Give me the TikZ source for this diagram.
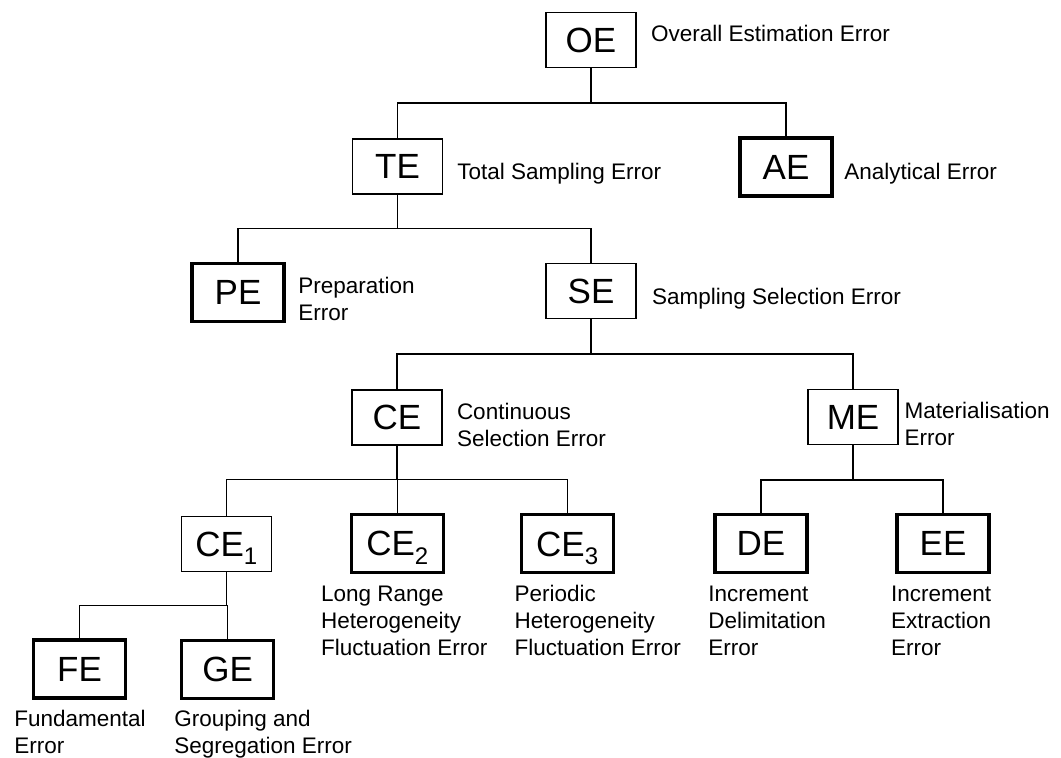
\documentclass[tikz,border=0pt]{standalone}
\usepackage{fontspec}
\setmainfont{Liberation Sans}
\usepackage{tikz}
\usetikzlibrary{positioning}
\newcommand{\idx}[1]{\raisebox{-4.3pt}{\fontsize{12}{12}\selectfont #1}}
\tikzstyle{thinbox} = [rectangle, draw=black, line width=0.6pt, minimum width=45pt, minimum height=27.5pt, inner sep=0pt, text height=12.5pt, text depth=0pt, font=\fontsize{17.5}{20}\selectfont]
\tikzstyle{thickbox} = [thinbox, line width=1.7pt, minimum width=46pt, minimum height=29pt]
\tikzstyle{desc} = [anchor=base west, inner sep=0pt, align=left, font=\fontsize{11.25}{13.5}\selectfont]
\tikzstyle{connector} = [line width=0.6pt]

\begin{document}
\begin{tikzpicture}[x=0.5pt, y=-0.5pt]
\useasboundingbox (0,0) rectangle (1061,758);

\node (oe) [thinbox] at (591,40) {OE};
\node (te) [thinbox] at (397.5,166.5) {TE};
\node (ae) [thickbox] at (786,167) {AE};
\node (pe) [thickbox] at (238,292.5) {PE};
\node (se) [thinbox] at (591,291) {SE};
\node (ce) [thinbox] at (397,417.5) {CE};
\node (me) [thinbox] at (853,417) {ME};
\node (ceone) [thinbox] at (226.3,543.7) {CE\idx{1}};
\node (cetwo) [thickbox] at (397.3,543.3) {CE\idx{2}};
\node (cethree) [thickbox] at (567.2,543.7) {CE\idx{3}};
\node (de) [thickbox] at (760.9,543.5) {DE};
\node (ee) [thickbox] at (943,543.5) {EE};
\node (fe) [thickbox] at (79.5,669) {FE};
\node (ge) [thickbox] at (227.7,669.5) {GE};

\node (oetext) [desc] at (650.7,41.7) {Overall Estimation Error};
\node (tetext) [desc] at (457,180) {Total Sampling Error};
\node (aetext) [desc] at (844,180) {Analytical Error};
\node (petext) [desc] at (298,320.3) {Preparation\\Error};
\node (setext) [desc] at (651.7,305) {Sampling Selection Error};
\node (cetext) [desc] at (456.6,447) {Continuous\\Selection Error};
\node (metext) [desc] at (904.3,446) {Materialisation\\Error};
\node (cetwotext) [desc] at (320.7,655.7) {Long Range\\Heterogeneity\\Fluctuation Error};
\node (cethreetext) [desc] at (514.3,655.7) {Periodic\\Heterogeneity\\Fluctuation Error};
\node (detext) [desc] at (708,655.7) {Increment\\Delimitation\\Error};
\node (eetext) [desc] at (890.8,655.7) {Increment\\Extraction\\Error};
\node (fetext) [desc] at (14,753.7) {Fundamental\\Error};
\node (getext) [desc] at (174,753.7) {Grouping and\\Segregation Error};

\draw [connector] (oe.south) -- ++(0,35) -| (te.north);
\draw [connector] (oe.south) -- ++(0,35) -| (ae.north);
\draw [connector] (te.south) -- ++(0,34) -| (pe.north);
\draw [connector] (te.south) -- ++(0,34) -| (se.north);
\draw [connector] (se.south) -- ++(0,35) -| (ce.north);
\draw [connector] (se.south) -- ++(0,35) -| (me.north);
\draw [connector] (ce.south) -- ++(0,34) -| (ceone.north);
\draw [connector] (ce.south) -- ++(0,34) -| (cetwo.north);
\draw [connector] (ce.south) -- ++(0,34) -| (cethree.north);
\draw [connector] (me.south) -- ++(0,35) -| (de.north);
\draw [connector] (me.south) -- ++(0,35) -| (ee.north);
\draw [connector] (ceone.south) -- ++(0,34) -| (fe.north);
\draw [connector] (ceone.south) -- ++(0,34) -| (ge.north);

\end{tikzpicture}
\end{document}
